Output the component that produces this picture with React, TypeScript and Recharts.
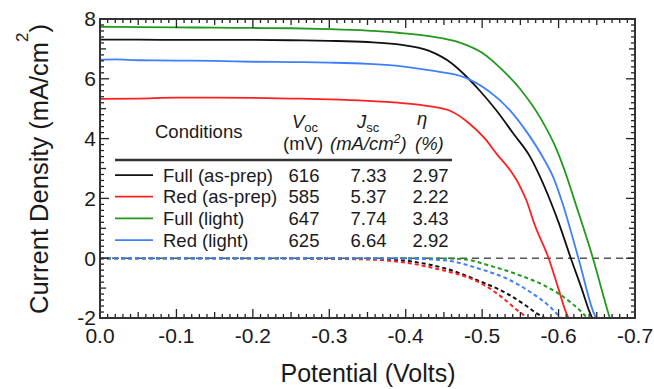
import React from "react";
import { LineChart, Line, XAxis, YAxis, ReferenceLine } from "recharts";

const FONT = "'Liberation Sans', Arial, Helvetica, sans-serif";
const TEXT = "#1a1a1a";
const FRAME = "#333333";

// ---- Data (Potential V, Current density mA/cm^2) ----
const fullAsPrep: [number, number][] = [
  [0, 7.31], [-0.05, 7.31], [-0.1, 7.3], [-0.15, 7.3], [-0.2, 7.3], [-0.25, 7.29], [-0.3, 7.27],
  [-0.35, 7.23], [-0.39, 7.15], [-0.43, 6.94], [-0.46, 6.52], [-0.48, 6.06], [-0.497, 5.6],
  [-0.519, 4.93], [-0.541, 4.16], [-0.563, 3.38], [-0.576, 2.71], [-0.589, 1.93], [-0.6, 1.2],
  [-0.616, 0], [-0.63, -1.0], [-0.641, -1.83], [-0.644, -2.0],
];
const redAsPrep: [number, number][] = [
  [0, 5.33], [-0.05, 5.34], [-0.1, 5.37], [-0.15, 5.37], [-0.2, 5.36], [-0.25, 5.34], [-0.3, 5.31],
  [-0.35, 5.26], [-0.39, 5.2], [-0.432, 5.08], [-0.458, 4.93], [-0.484, 4.49], [-0.504, 3.99],
  [-0.519, 3.49], [-0.537, 2.93], [-0.55, 2.38], [-0.558, 1.93], [-0.569, 1.1], [-0.587, 0],
  [-0.599, -0.95], [-0.61, -1.83], [-0.613, -2.0],
];
const fullLight: [number, number][] = [
  [0, 7.74], [-0.05, 7.73], [-0.1, 7.72], [-0.15, 7.71], [-0.2, 7.7], [-0.25, 7.69], [-0.3, 7.66],
  [-0.35, 7.61], [-0.39, 7.54], [-0.43, 7.43], [-0.47, 7.22], [-0.5, 6.87], [-0.525, 6.33],
  [-0.55, 5.65], [-0.576, 4.7], [-0.598, 3.6], [-0.611, 2.71], [-0.62, 2.0], [-0.645, 0],
  [-0.665, -1.83], [-0.667, -2.0],
];
const redLight: [number, number][] = [
  [0, 6.64], [-0.02, 6.65], [-0.05, 6.62], [-0.1, 6.61], [-0.15, 6.6], [-0.2, 6.57], [-0.25, 6.56],
  [-0.3, 6.54], [-0.35, 6.5], [-0.39, 6.43], [-0.432, 6.28], [-0.478, 6.04], [-0.508, 5.6],
  [-0.537, 4.93], [-0.559, 4.2], [-0.58, 3.35], [-0.593, 2.71], [-0.604, 1.93], [-0.626, 0],
  [-0.646, -1.83], [-0.649, -2.0],
];
const fullAsPrepDark: [number, number][] = [
  [0, 0], [-0.1, 0], [-0.2, 0], [-0.3, -0.01], [-0.366, -0.03], [-0.41, -0.12], [-0.454, -0.36],
  [-0.497, -0.77], [-0.533, -1.19], [-0.558, -1.6], [-0.571, -1.84], [-0.582, -2.0],
];
const redAsPrepDark: [number, number][] = [
  [0, 0], [-0.1, 0], [-0.2, 0], [-0.25, -0.005], [-0.3, -0.015], [-0.33, -0.03], [-0.366, -0.06],
  [-0.41, -0.19], [-0.454, -0.44], [-0.48, -0.63], [-0.507, -0.96], [-0.528, -1.35],
  [-0.546, -1.74], [-0.554, -1.9], [-0.557, -2.0],
];
const fullLightDark: [number, number][] = [
  [0, 0], [-0.2, 0], [-0.35, 0], [-0.45, -0.01], [-0.475, -0.03], [-0.51, -0.25], [-0.55, -0.58],
  [-0.585, -0.96], [-0.615, -1.46], [-0.632, -1.85], [-0.637, -2.0],
];
const redLightDark: [number, number][] = [
  [0, 0], [-0.2, 0], [-0.3, 0], [-0.41, -0.02], [-0.454, -0.08], [-0.497, -0.36], [-0.533, -0.69],
  [-0.563, -1.13], [-0.589, -1.63], [-0.602, -1.96], [-0.604, -2.0],
];

// ---- Legend table ----
const conditions = ["Full (as-prep)", "Red (as-prep)", "Full (light)", "Red (light)"];
const vocValues = ["616", "585", "647", "625"];
const jscValues = ["7.33", "5.37", "7.74", "6.64"];
const etaValues = ["2.97", "2.22", "3.43", "2.92"];
const seriesColors = ["#111111", "#ff1f1f", "#1f9a1f", "#3f7fff"];

// ---- Axes / ticks ----
const X_MIN = -0.7;
const X_MAX = 0;
const Y_MIN = -2;
const Y_MAX = 8;
const xMajor = [0, -0.1, -0.2, -0.3, -0.4, -0.5, -0.6, -0.7];
const xMajorLabels = ["0.0", "-0.1", "-0.2", "-0.3", "-0.4", "-0.5", "-0.6", "-0.7"];
const yMajor = [-2, 0, 2, 4, 6, 8];
const yMajorLabels = ["-2", "0", "2", "4", "6", "8"];
const xMinor = Array.from({ length: 71 }, (_, i) => -i / 100);
const yMinor = Array.from({ length: 51 }, (_, i) => -2 + i * 0.2);

// chart layout: plot box follows from the margins and axis sizes below
const W = 654;
const H = 389;
const MARGIN = { top: 19, right: 19, bottom: 0, left: 0 };
const Y_AXIS_W = 100;
const X_AXIS_H = 71;
const PLOT = {
  left: MARGIN.left + Y_AXIS_W,
  right: W - MARGIN.right,
  top: MARGIN.top,
  bottom: H - MARGIN.bottom - X_AXIS_H,
};
const vx = (v: number) => PLOT.left + ((X_MAX - v) / (X_MAX - X_MIN)) * (PLOT.right - PLOT.left);
const jy = (j: number) => PLOT.bottom - ((j - Y_MIN) / (Y_MAX - Y_MIN)) * (PLOT.bottom - PLOT.top);

const toPts = (a: [number, number][]) => a.map(([v, j]) => ({ v, j }));

const xLen = (v: number) => {
  const k = Math.round(-v * 100);
  return k % 10 === 0 ? 9 : k % 5 === 0 ? 6 : 4;
};
const yLen = (v: number) => {
  const k = Math.round((v + 2) * 5);
  return k % 10 === 0 ? 9 : k % 5 === 0 ? 6 : 4;
};
const xFmt = (v: number) => {
  const i = xMajor.findIndex((m) => Math.abs(m - v) < 1e-6);
  return i >= 0 ? xMajorLabels[i] : "";
};
const yFmt = (v: number) => {
  const i = yMajor.findIndex((m) => Math.abs(m - v) < 1e-6);
  return i >= 0 ? yMajorLabels[i] : "";
};

const rowBase = [181.7, 203.3, 225, 246.7];

const Overlay = () => (
  <svg width={W} height={H} style={{ position: "absolute", left: 0, top: 0, pointerEvents: "none" }}>
    {/* inward tick marks on all four sides */}
    <g stroke="#222222" strokeWidth={1.3}>
      {xMinor.map((v) => (
        <g key={"xt" + v}>
          <line x1={vx(v)} x2={vx(v)} y1={PLOT.bottom} y2={PLOT.bottom - xLen(v)} />
          <line x1={vx(v)} x2={vx(v)} y1={PLOT.top} y2={PLOT.top + xLen(v)} />
        </g>
      ))}
      {yMinor.map((j) => (
        <g key={"yt" + j}>
          <line x1={PLOT.left} x2={PLOT.left + yLen(j)} y1={jy(j)} y2={jy(j)} />
          <line x1={PLOT.right} x2={PLOT.right - yLen(j)} y1={jy(j)} y2={jy(j)} />
        </g>
      ))}
    </g>
    {/* plot frame */}
    <rect
      x={PLOT.left}
      y={PLOT.top}
      width={PLOT.right - PLOT.left}
      height={PLOT.bottom - PLOT.top}
      fill="none"
      stroke={FRAME}
      strokeWidth={2}
    />
    <g fontFamily={FONT} fill={TEXT}>
      <text x={368} y={382} textAnchor="middle" fontSize={25}>
        Potential (Volts)
      </text>
      <text transform="translate(48,169) rotate(-90)" textAnchor="middle" fontSize={25.5}>
        Current Density (mA/cm
        <tspan fontSize={17} dy={-20}>2</tspan>
        <tspan dy={20}>)</tspan>
      </text>
      <text x={155} y={138} fontSize={18.5}>Conditions</text>
      <text x={292} y={128} fontSize={18.5} fontStyle="italic">
        V<tspan fontStyle="normal" fontSize={13} dy={4}>oc</tspan>
      </text>
      <text x={283} y={150} fontSize={18.5}>(mV)</text>
      <text x={357} y={128} fontSize={18.5} fontStyle="italic">
        J<tspan fontStyle="normal" fontSize={13} dy={4}>sc</tspan>
      </text>
      <text x={330} y={150} fontSize={18.5} fontStyle="italic">
        (mA/cm<tspan fontSize={12} dy={-7}>2</tspan>
        <tspan dy={7}>)</tspan>
      </text>
      <text x={417} y={125} fontSize={18.5} fontStyle="italic">η</text>
      <text x={415} y={150} fontSize={18.5} fontStyle="italic">(%)</text>
      <line x1={115} x2={452} y1={160} y2={160} stroke={FRAME} strokeWidth={2.5} />
      {conditions.map((c, i) => (
        <g key={c}>
          <line x1={115} x2={153} y1={rowBase[i] - 6.6} y2={rowBase[i] - 6.6} stroke={seriesColors[i]} strokeWidth={1.8} />
          <text x={163} y={rowBase[i]} fontSize={18.5}>{c}</text>
          <text x={304} y={rowBase[i]} fontSize={18.5} textAnchor="middle">{vocValues[i]}</text>
          <text x={368.5} y={rowBase[i]} fontSize={18.5} textAnchor="middle">{jscValues[i]}</text>
          <text x={430.5} y={rowBase[i]} fontSize={18.5} textAnchor="middle">{etaValues[i]}</text>
        </g>
      ))}
    </g>
  </svg>
);

const darkSeries = [fullAsPrepDark, redAsPrepDark, fullLightDark, redLightDark];
const lightSeries = [fullAsPrep, redAsPrep, fullLight, redLight];

export default function App() {
  return (
    <div style={{ position: "absolute", left: 0, top: 0, width: W, height: H, background: "#fff" }}>
      <LineChart width={W} height={H} margin={MARGIN}>
        <XAxis
          xAxisId="bottom"
          type="number"
          dataKey="v"
          domain={[X_MIN, X_MAX]}
          reversed
          ticks={xMajor}
          interval={0}
          height={X_AXIS_H}
          tickSize={0}
          tickMargin={10}
          tickLine={false}
          axisLine={false}
          tickFormatter={xFmt}
          tick={{ fill: TEXT, fontSize: 21, fontFamily: FONT }}
          allowDataOverflow
        />
        <YAxis
          yAxisId="left"
          type="number"
          domain={[Y_MIN, Y_MAX]}
          ticks={yMajor}
          interval={0}
          width={Y_AXIS_W}
          tickSize={0}
          tickMargin={4}
          tickLine={false}
          axisLine={false}
          tickFormatter={yFmt}
          tick={{ fill: TEXT, fontSize: 21, fontFamily: FONT }}
          allowDataOverflow
        />
        <ReferenceLine xAxisId="bottom" yAxisId="left" y={0} stroke="#555555" strokeDasharray="7 5" strokeWidth={1.5} />
        {darkSeries.map((s, i) => (
          <Line
            key={"d" + i}
            xAxisId="bottom"
            yAxisId="left"
            data={toPts(s)}
            dataKey="j"
            type="monotone"
            stroke={seriesColors[i]}
            strokeWidth={2}
            strokeDasharray="4 3"
            dot={false}
            activeDot={false}
            isAnimationActive={false}
          />
        ))}
        {lightSeries.map((s, i) => (
          <Line
            key={"l" + i}
            xAxisId="bottom"
            yAxisId="left"
            data={toPts(s)}
            dataKey="j"
            type="monotone"
            stroke={seriesColors[i]}
            strokeWidth={1.8}
            dot={false}
            activeDot={false}
            isAnimationActive={false}
          />
        ))}
      </LineChart>
      <Overlay />
    </div>
  );
}
